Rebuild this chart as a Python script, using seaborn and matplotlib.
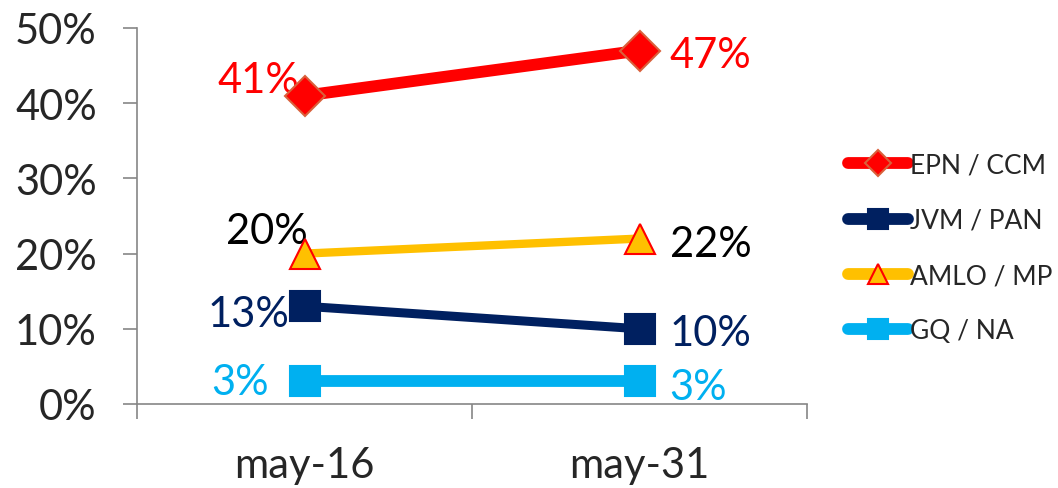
import pandas as pd
import numpy as np
import matplotlib.pyplot as plt
import seaborn as sns

# --- data ---
dates = ['may-16', 'may-31']
series = ['EPN / CCM', 'JVM / PAN', 'AMLO / MP', 'GQ / NA']
epn = [41, 47]
jvm = [13, 10]
amlo = [20, 22]
gq = [3, 3]
values = [epn, jvm, amlo, gq]
y_ticks = [0, 10, 20, 30, 40, 50]

colors = ['#FF0000', '#002060', '#FFC000', '#00B0F0']
edges = ['#D9603B', '#002060', '#FF0000', '#00B0F0']
markers = ['D', 's', '^', 's']
msizes = [20, 21, 21, 21]
lwidths = [8.5, 6.5, 6.0, 8.5]

df = pd.concat([pd.DataFrame({'fecha': dates, 'serie': s, 'valor': v, 'pos': [0, 1]})
                for s, v in zip(series, values)], ignore_index=True)

sns.set_style('white')
plt.rcParams['font.family'] = ['Lato', 'DejaVu Sans']

fig = plt.figure(figsize=(10.58, 4.89), dpi=100)
ax = fig.add_axes([137/1058, 84/489, 670/1058, 376/489])

for s, c, ec, m, ms, lw in zip(series, colors, edges, markers, msizes, lwidths):
    sub = df[df['serie'] == s]
    sns.lineplot(data=sub, x='pos', y='valor', color=c, marker=m, markersize=ms,
                 markeredgecolor=ec, markeredgewidth=1.5, linewidth=lw,
                 solid_capstyle='round', label=s, ax=ax, clip_on=False)

# data labels (offsets relative to each point, baseline aligned)
fs = 30
def put(xi, v, dx, dy, color, ha):
    ax.text(xi + dx, v + dy, f'{v}%', color=color, ha=ha, va='baseline',
            fontsize=fs, zorder=1)

put(0, epn[0], -0.015, 0.5, colors[0], 'right')
put(1, epn[1], 0.09, -2.2, colors[0], 'left')
put(0, amlo[0], 0.009, 1.4, 'black', 'right')
put(1, amlo[1], 0.09, -2.3, 'black', 'left')
put(0, jvm[0], -0.045, -2.6, colors[1], 'right')
put(1, jvm[1], 0.09, -2.2, colors[1], 'left')
put(0, gq[0], -0.105, -1.7, colors[3], 'right')
put(1, gq[1], 0.09, -2.3, colors[3], 'left')

ax.set_xlim(-0.5, 1.5)
ax.set_ylim(0, 50)
ax.set_yticks(y_ticks)
ax.set_yticklabels([f'{v}%' for v in y_ticks])
ax.set_xticks([0, 1])
ax.set_xticklabels(dates)
ax.set_xticks([-0.5, 0.5, 1.5], minor=True)
ax.set_xlabel('')
ax.set_ylabel('')

gray = '#868686'
for side in ['top', 'right']:
    ax.spines[side].set_visible(False)
for side in ['left', 'bottom']:
    ax.spines[side].set_color(gray)
    ax.spines[side].set_linewidth(1.2)
ax.tick_params(axis='y', which='major', left=True, length=10, width=1.2, color=gray,
               labelsize=30, pad=19)
ax.tick_params(axis='x', which='major', bottom=False, labelsize=30, pad=27)
ax.tick_params(axis='x', which='minor', bottom=True, length=11, width=1.2, color=gray)

leg = ax.legend(loc='center left', bbox_to_anchor=(1.025, 0.415), frameon=False,
                fontsize=19, handlelength=2.3, handletextpad=0.05, labelspacing=1.15,
                markerscale=0.68)
for h in leg.legend_handles:
    h.set_linewidth(8.5)

plt.savefig('out.png', dpi=100)
